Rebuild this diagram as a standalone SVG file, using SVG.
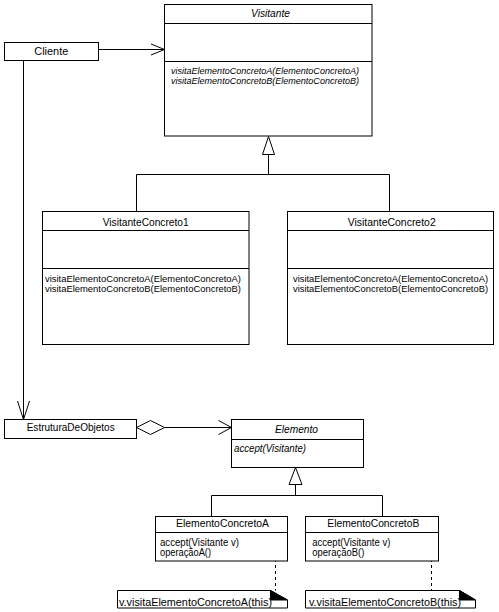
<svg xmlns="http://www.w3.org/2000/svg" width="499" height="612" viewBox="0 0 499 612">
<style>
.box{fill:#fff;stroke:#000;stroke-width:1}
.ln{fill:none;stroke:#000;stroke-width:1}
.dash{fill:none;stroke:#000;stroke-width:1;stroke-dasharray:3 3}
text{font-family:"Liberation Sans",Arial,sans-serif;font-size:10px;fill:#000}
.it{font-style:italic}
.m{font-size:9.3px}
</style>
<rect width="499" height="612" fill="#fff"/>
<g id="connectors">
<line class="ln" x1="98.5" y1="49.5" x2="164.5" y2="49.5"/>
<polyline class="ln" points="151,44 164.5,49.5 151,55"/>
<line class="ln" x1="23.5" y1="60.5" x2="23.5" y2="419.5"/>
<polyline class="ln" points="17.5,401 23.5,419.5 29.5,401"/>
<polygon class="box" points="268.5,136.5 262.5,154.5 274.5,154.5"/>
<polyline class="ln" points="268.5,154.5 268.5,174.5"/>
<polyline class="ln" points="136.5,211.5 136.5,174.5 389.5,174.5 389.5,211.5"/>
<polygon class="box" points="136.5,427.5 150.5,420.5 164.5,427.5 150.5,434.5"/>
<line class="ln" x1="164.5" y1="427.5" x2="231.5" y2="427.5"/>
<polyline class="ln" points="218.5,420.5 231.5,427.5 218.5,434.5"/>
<polygon class="box" points="295.5,467.5 289,484.5 302,484.5"/>
<polyline class="ln" points="295.5,484.5 295.5,495.5"/>
<polyline class="ln" points="211.5,516.5 211.5,495.5 382.5,495.5 382.5,516.5"/>
<circle class="box" cx="275.5" cy="544" r="2.5"/>
<line class="dash" x1="275.5" y1="547" x2="275.5" y2="590.5"/>
<circle class="box" cx="431.5" cy="544" r="2.5"/>
<line class="dash" x1="431.5" y1="547" x2="431.5" y2="590.5"/>
</g>
<g id="Visitante">
<rect class="box" x="164.5" y="4.5" width="207.5" height="131.5"/>
<line class="ln" x1="164.5" y1="23.5" x2="372" y2="23.5"/>
<line class="ln" x1="164.5" y1="61.5" x2="372" y2="61.5"/>
<text class="it" x="251" y="17" textLength="39" lengthAdjust="spacingAndGlyphs">Visitante</text>
<text class="it m" x="171" y="74" textLength="188" lengthAdjust="spacingAndGlyphs">visitaElementoConcretoA(ElementoConcretoA)</text>
<text class="it m" x="171" y="84" textLength="188" lengthAdjust="spacingAndGlyphs">visitaElementoConcretoB(ElementoConcretoB)</text>
</g>
<g id="Cliente">
<rect class="box" x="4.5" y="42.5" width="94" height="18"/>
<text x="34.3" y="55" textLength="34" lengthAdjust="spacingAndGlyphs">Cliente</text>
</g>
<g id="VisitanteConcreto1">
<rect class="box" x="42.5" y="211.5" width="206.5" height="133"/>
<line class="ln" x1="42.5" y1="230.5" x2="249" y2="230.5"/>
<line class="ln" x1="42.5" y1="268.5" x2="249" y2="268.5"/>
<text x="102.7" y="226" textLength="86" lengthAdjust="spacingAndGlyphs">VisitanteConcreto1</text>
<text class="m" x="45" y="282" textLength="196" lengthAdjust="spacingAndGlyphs">visitaElementoConcretoA(ElementoConcretoA)</text>
<text class="m" x="45" y="292" textLength="196" lengthAdjust="spacingAndGlyphs">visitaElementoConcretoB(ElementoConcretoB)</text>
</g>
<g id="VisitanteConcreto2">
<rect class="box" x="287.5" y="211.5" width="206" height="133"/>
<line class="ln" x1="287.5" y1="230.5" x2="493.5" y2="230.5"/>
<line class="ln" x1="287.5" y1="268.5" x2="493.5" y2="268.5"/>
<text x="347.7" y="226" textLength="88" lengthAdjust="spacingAndGlyphs">VisitanteConcreto2</text>
<text class="m" x="293" y="282" textLength="195" lengthAdjust="spacingAndGlyphs">visitaElementoConcretoA(ElementoConcretoA)</text>
<text class="m" x="293" y="292" textLength="195" lengthAdjust="spacingAndGlyphs">visitaElementoConcretoB(ElementoConcretoB)</text>
</g>
<g id="EstruturaDeObjetos">
<rect class="box" x="4.5" y="419.5" width="132" height="19"/>
<text x="26.7" y="431" textLength="88" lengthAdjust="spacingAndGlyphs">EstruturaDeObjetos</text>
</g>
<g id="Elemento">
<rect class="box" x="231.5" y="419.5" width="132" height="48"/>
<line class="ln" x1="231.5" y1="439.5" x2="363.5" y2="439.5"/>
<text class="it" x="275" y="432.5" textLength="43" lengthAdjust="spacingAndGlyphs">Elemento</text>
<text class="it" x="234" y="451.5" textLength="72" lengthAdjust="spacingAndGlyphs">accept(Visitante)</text>
</g>
<g id="ElementoConcretoA">
<rect class="box" x="155.5" y="516.5" width="132" height="44.5"/>
<line class="ln" x1="155.5" y1="532.5" x2="287.5" y2="532.5"/>
<text x="176" y="527" textLength="93" lengthAdjust="spacingAndGlyphs">ElementoConcretoA</text>
<text x="160" y="546" textLength="79" lengthAdjust="spacingAndGlyphs">accept(Visitante v)</text>
<text x="160" y="556" textLength="51" lengthAdjust="spacingAndGlyphs">operaçãoA()</text>
</g>
<g id="ElementoConcretoB">
<rect class="box" x="305.5" y="516.5" width="133" height="44.5"/>
<line class="ln" x1="305.5" y1="532.5" x2="438.5" y2="532.5"/>
<text x="327.3" y="527" textLength="92" lengthAdjust="spacingAndGlyphs">ElementoConcretoB</text>
<text x="312.3" y="546" textLength="78" lengthAdjust="spacingAndGlyphs">accept(Visitante v)</text>
<text x="312.3" y="556" textLength="52" lengthAdjust="spacingAndGlyphs">operaçãoB()</text>
</g>
<g id="NotaA">
<polygon class="box" points="117.5,590.5 270.5,590.5 287.5,600 287.5,608 117.5,608"/>
<polygon fill="#000" stroke="#000" points="270.5,590.5 270.5,600 287.5,600"/>
<text x="119" y="606" textLength="153" lengthAdjust="spacingAndGlyphs">v.visitaElementoConcretoA(this)</text>
</g>
<g id="NotaB">
<polygon class="box" points="305.5,590.5 459.5,590.5 475.5,600 475.5,608 305.5,608"/>
<polygon fill="#000" stroke="#000" points="459.5,590.5 459.5,600 475.5,600"/>
<text x="309" y="606" textLength="152" lengthAdjust="spacingAndGlyphs">v.visitaElementoConcretoB(this)</text>
</g>
</svg>
